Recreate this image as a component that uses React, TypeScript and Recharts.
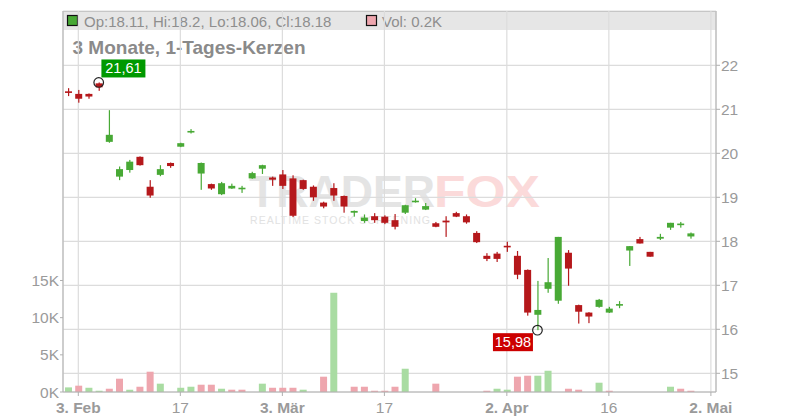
import { Bar, CartesianGrid, Cell, ComposedChart, ReferenceDot, XAxis, YAxis } from "recharts";

// trading days, Jan 31 .. May 2 (last two are empty slots)
const dates = [
  "31.01", "03.02", "04.02", "05.02", "06.02", "07.02", "10.02", "11.02", "12.02", "13.02",
  "14.02", "17.02", "18.02", "19.02", "20.02", "21.02", "24.02", "25.02", "26.02", "27.02",
  "28.02", "03.03", "04.03", "05.03", "06.03", "07.03", "10.03", "11.03", "12.03", "13.03",
  "14.03", "17.03", "18.03", "19.03", "20.03", "21.03", "24.03", "25.03", "26.03", "27.03",
  "28.03", "31.03", "01.04", "02.04", "03.04", "04.04", "07.04", "08.04", "09.04", "10.04",
  "11.04", "14.04", "15.04", "16.04", "17.04", "22.04", "23.04", "24.04", "25.04", "28.04",
  "29.04", "30.04", "01.05", "02.05",
];

const open = [
  21.40, 21.35, 21.35, 21.59, 20.26, 19.47, 19.62, 19.92, 19.24, 19.51,
  19.78, 20.15, 20.48, 19.54, 19.30, 19.07, 19.20, 19.19, 19.43, 19.65,
  19.45, 19.52, 19.43, 19.39, 19.24, 18.88, 19.21, 19.03, 18.65, 18.46,
  18.57, 18.56, 18.48, 18.65, 18.89, 18.72, 18.41, 18.47, 18.64, 18.57,
  18.19, 17.67, 17.72, 17.89, 17.67, 17.35, 16.33, 16.92, 16.65, 17.74,
  16.55, 16.38, 16.51, 16.38, 16.54, 17.79, 18.05, 17.76, 18.06, 18.31,
  18.37, 18.11,
];
const high = [
  21.48, 21.44, 21.36, 21.61, 20.98, 19.70, 19.85, 19.93, 19.39, 19.73,
  19.79, 20.24, 20.55, 19.79, 19.31, 19.35, 19.31, 19.26, 19.58, 19.74,
  19.47, 19.62, 19.50, 19.40, 19.27, 18.90, 19.32, 19.04, 18.70, 18.61,
  18.64, 18.59, 18.62, 18.83, 18.98, 18.87, 18.44, 18.57, 18.67, 18.61,
  18.23, 17.73, 17.76, 17.99, 17.78, 17.36, 17.10, 17.62, 18.10, 17.80,
  16.56, 16.39, 16.69, 16.51, 16.64, 17.89, 18.10, 17.76, 18.17, 18.42,
  18.44, 18.20,
];
const low = [
  21.30, 21.15, 21.24, 21.42, 20.24, 19.39, 19.56, 19.72, 18.99, 19.48,
  19.67, 20.14, 20.45, 19.17, 19.17, 19.05, 19.19, 19.10, 19.42, 19.53,
  19.26, 19.19, 18.55, 19.17, 18.92, 18.75, 18.92, 18.65, 18.56, 18.42,
  18.42, 18.39, 18.27, 18.62, 18.88, 18.71, 18.32, 18.10, 18.55, 18.40,
  17.96, 17.55, 17.53, 17.76, 17.14, 16.31, 15.98, 16.83, 16.58, 16.99,
  16.13, 16.14, 16.49, 16.37, 16.48, 17.44, 17.95, 17.65, 18.03, 18.26,
  18.31, 18.06,
];
const close = [
  21.38, 21.24, 21.29, 21.50, 20.42, 19.64, 19.81, 19.73, 19.04, 19.64,
  19.71, 20.23, 20.50, 19.78, 19.20, 19.32, 19.26, 19.21, 19.55, 19.73,
  19.40, 19.26, 18.58, 19.19, 19.00, 18.79, 19.04, 18.79, 18.69, 18.54,
  18.48, 18.42, 18.33, 18.82, 18.92, 18.80, 18.33, 18.43, 18.56, 18.43,
  17.98, 17.60, 17.60, 17.87, 17.24, 16.38, 16.44, 17.07, 18.10, 17.38,
  16.40, 16.29, 16.67, 16.47, 16.57, 17.89, 17.95, 17.65, 18.10, 18.42,
  18.40, 18.18,
];

const volume = [
  620, 850, 570, 170, 440, 1790, 310, 710, 2730, 1120,
  0, 570, 710, 980, 980, 440, 310, 310, 0, 1120,
  570, 570, 570, 310, 0, 2060, 13350, 0, 710, 710,
  170, 170, 710, 3130, 0, 0, 1120, 0, 0, 0,
  0, 170, 440, 310, 2060, 2190, 2190, 2860, 0, 440,
  310, 0, 1250, 170, 0, 0, 0, 0, 0, 710,
  440, 170,
];
// "+" = green volume bar, "-" = red
const volDir = [
  "+", "-", "+", "+", "-", "-", "+", "-", "-", "+",
  "+", "+", "+", "-", "-", "+", "-", "-", "+", "+",
  "-", "-", "-", "+", "-", "-", "+", "+", "-", "-",
  "-", "-", "-", "+", "+", "+", "-", "-", "-", "-",
  "-", "-", "+", "+", "-", "-", "+", "+", "+", "-",
  "-", "-", "+", "-", "+", "+", "-", "-", "+", "+",
  "-", "-",
];

const priceTicks = [15, 16, 17, 18, 19, 20, 21, 22];
const volTicks = [0, 5000, 10000, 15000];
const xTicks = ["03.02", "17.02", "03.03", "17.03", "02.04", "16.04", "02.05"];
const xLabels = ["3. Feb", "17", "3. Mär", "17", "2. Apr", "16", "2. Mai"];

const GREEN = "#48a935";
const RED = "#b5181b";
const VOL_GREEN = "#a9dca2";
const VOL_RED = "#eea6ae";
const MUTED = "#9a9a9a";
const AXIS = "#b0b0b0";
const GRID = "#dcdcdc";

const data = dates.map((d, i) => ({
  d,
  o: open[i],
  h: high[i],
  l: low[i],
  c: close[i],
  v: volume[i],
  up: volDir[i] === "+",
}));

const last = data[open.length - 1];
const hiPt = data.reduce((a, b) => (b.h != null && b.h > a.h ? b : a), data[0]);
const loPt = data.reduce((a, b) => (b.l != null && b.l < a.l ? b : a), data[0]);
const fmt = (v: number) => v.toFixed(2).replace(".", ",");

function Candle(props: any) {
  const { x, y, width, height, payload } = props;
  if (!payload || payload.o == null) return null;
  const { o, h, l, c } = payload;
  const top = Math.min(y, y + height);
  const span = Math.abs(height);
  const k = h > l ? span / (h - l) : 0;
  const py = (v: number) => top + (h - v) * k;
  const b1 = py(Math.max(o, c));
  const b2 = py(Math.min(o, c));
  const bh = Math.max(b2 - b1, 1.6);
  const by = b2 - b1 < 1.6 ? (b1 + b2) / 2 - bh / 2 : b1;
  const color = c >= o ? GREEN : RED;
  return (
    <g>
      <rect x={x + width / 2 - 0.5} y={top} width={1.2} height={span} fill={color} />
      <rect x={x} y={by} width={width} height={bh} fill={color} />
    </g>
  );
}

function Marker(props: any) {
  const { cx, cy, text, bg, below, w } = props;
  const bx = below ? cx - 4.5 - w : cx + 2.7;
  const by = below ? cy + 3 : cy - 23;
  return (
    <g>
      <circle cx={cx} cy={cy} r={4.8} fill="none" stroke="#222" strokeWidth={1.2} />
      <rect x={bx} y={by} width={w} height={18} fill={bg} />
      <text x={bx + w / 2} y={by + 14} textAnchor="middle" fill="#fff" fontSize={14.5}>
        {text}
      </text>
    </g>
  );
}

function XTick({ x, y, payload }: any) {
  const lab = xLabels[xTicks.indexOf(payload.value)];
  const bold = !/^\d+$/.test(lab);
  return (
    <text x={x} y={y + 12.5} textAnchor="middle" fill={MUTED} fontSize={15.5} fontWeight={bold ? 700 : 400}>
      {lab}
    </text>
  );
}

export default function App() {
  return (
    <div
      style={{
        position: "absolute",
        left: 0,
        top: 0,
        width: 800,
        height: 420,
        background: "#fff",
        fontFamily: "'Liberation Sans', Arial, sans-serif",
      }}
    >
      <svg width={800} height={420} style={{ position: "absolute", left: 0, top: 0 }}>
        <rect x={63} y={11} width={653} height={19} fill="#e6e6e6" />
        <line x1={63} x2={716} y1={11.5} y2={11.5} stroke={AXIS} />
        <rect x={67.5} y={15.5} width={10} height={10} fill={GREEN} stroke="#111" strokeWidth={1.2} />
        <text x={84} y={26.5} fontSize={15} fill="#8e8e8e">
          {`Op:${last.o.toFixed(2)}, Hi:${last.h}, Lo:${last.l.toFixed(2)}, Cl:${last.c.toFixed(2)}`}
        </text>
        <rect x={366.5} y={15.5} width={10} height={10} fill={VOL_RED} stroke="#111" strokeWidth={1.2} />
        <text x={382} y={26.5} fontSize={15} fill="#8e8e8e">
          {`Vol: ${(last.v / 1000).toFixed(1)}K`}
        </text>
        <text x={72.5} y={54} fontSize={19} fontWeight={700} fill="#8a8a8a">
          3 Monate, 1-Tages-Kerzen
        </text>
        {/* watermark */}
        <text x={249} y={207} fontSize={44} fontWeight={700} fill="#e4e4e4" textLength={186} lengthAdjust="spacingAndGlyphs">
          TRADER
        </text>
        <text x={434} y={207} fontSize={44} fontWeight={700} fill="#fbdada" textLength={106} lengthAdjust="spacingAndGlyphs">
          FOX
        </text>
        <text x={250} y={224} fontSize={10.5} fill="#e2e2e2" textLength={180} lengthAdjust="spacing">
          REALTIME STOCK SCREENING
        </text>
      </svg>
      <div style={{ position: "absolute", left: 0, top: 0 }}>
        <ComposedChart width={800} height={420} data={data} margin={{ top: 11, right: 24, bottom: 0, left: 8 }}>
          <CartesianGrid xAxisId="p" yAxisId="p" stroke={GRID} strokeWidth={1.2} />
          <XAxis
            xAxisId="p"
            dataKey="d"
            ticks={xTicks}
            interval={0}
            tick={<XTick />}
            tickSize={4}
            tickMargin={4}
            height={28}
            stroke={AXIS}
          />
          <XAxis xAxisId="v" dataKey="d" hide />
          <YAxis
            yAxisId="v"
            orientation="left"
            width={55}
            domain={[0, 51250]}
            ticks={volTicks}
            tickFormatter={(v: number) => `${v / 1000}K`}
            tick={{ fill: MUTED, fontSize: 15.5 }}
            tickSize={3}
            tickMargin={1}
            stroke={AXIS}
            allowDataOverflow
          />
          <YAxis
            yAxisId="p"
            orientation="right"
            width={60}
            domain={[14.575, 23.234]}
            ticks={priceTicks}
            tick={{ fill: MUTED, fontSize: 15.5 }}
            tickSize={4}
            tickMargin={1}
            stroke={AXIS}
            allowDataOverflow
          />
          <Bar xAxisId="v" yAxisId="v" dataKey="v" barSize={7} isAnimationActive={false}>
            {data.map((e, i) => (
              <Cell key={i} fill={e.up ? VOL_GREEN : VOL_RED} />
            ))}
          </Bar>
          <Bar
            xAxisId="p"
            yAxisId="p"
            dataKey={(e: any) => (e.h == null ? null : [e.l, e.h])}
            barSize={7}
            shape={<Candle />}
            isAnimationActive={false}
          />
          <ReferenceDot
            xAxisId="p"
            yAxisId="p"
            x={hiPt.d}
            y={hiPt.h}
            r={5}
            shape={(p: any) => <Marker {...p} text={fmt(hiPt.h)} bg="#009900" w={44} />}
          />
          <ReferenceDot
            xAxisId="p"
            yAxisId="p"
            x={loPt.d}
            y={loPt.l}
            r={5}
            shape={(p: any) => <Marker {...p} text={fmt(loPt.l)} bg="#cc0000" w={40} below />}
          />
        </ComposedChart>
      </div>
    </div>
  );
}
